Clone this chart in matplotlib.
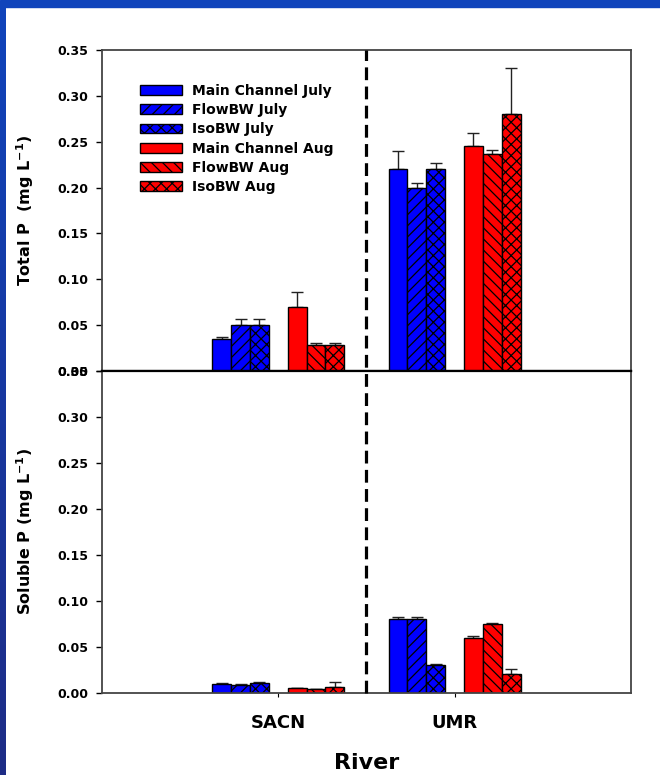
import numpy as np
import matplotlib
matplotlib.use("Agg")
import matplotlib.pyplot as plt
from matplotlib.patches import Patch, Rectangle
from matplotlib.lines import Line2D
from matplotlib.colors import LinearSegmentedColormap
from matplotlib.transforms import blended_transform_factory

# data
rivers = ["SACN", "UMR"]
series = ["Main Channel July", "FlowBW July", "IsoBW July",
          "Main Channel Aug", "FlowBW Aug", "IsoBW Aug"]

total_p_sacn = [0.035, 0.050, 0.050, 0.070, 0.028, 0.028]
total_p_sacn_err = [0.002, 0.007, 0.007, 0.016, 0.002, 0.002]
total_p_umr = [0.220, 0.200, 0.220, 0.245, 0.237, 0.280]
total_p_umr_err = [0.020, 0.005, 0.007, 0.014, 0.004, 0.050]

soluble_p_sacn = [0.010, 0.009, 0.011, 0.005, 0.004, 0.006]
soluble_p_sacn_err = [0.001, 0.001, 0.001, 0.0005, 0.0005, 0.006]
soluble_p_umr = [0.080, 0.080, 0.030, 0.060, 0.075, 0.021]
soluble_p_umr_err = [0.003, 0.003, 0.002, 0.002, 0.001, 0.005]

y_ticks = [0.00, 0.05, 0.10, 0.15, 0.20, 0.25, 0.30, 0.35]

# styles
colors = ["#0000ff", "#0000ff", "#0000ff", "#ff0000", "#ff0000", "#ff0000"]
hatches = ["", "///", "xxx", "", "\\\\\\", "xxx"]
offsets = [-3, -2, -1, 1, 2, 3]
bar_w = 0.107

plt.rcParams["font.family"] = ["DejaVu Sans"]
plt.rcParams["font.weight"] = "bold"
plt.rcParams["axes.labelweight"] = "bold"
plt.rcParams["mathtext.default"] = "bf"
plt.rcParams["hatch.linewidth"] = 0.9

fig = plt.figure(figsize=(6.6, 7.75), dpi=100)
fig.patch.set_facecolor("white")

ax1 = fig.add_axes([0.1545, 0.5213, 0.8015, 0.4142])
ax2 = fig.add_axes([0.1545, 0.1058, 0.8015, 0.4155])

x = np.arange(1, len(rivers) + 1)


def draw_panel(ax, vals_a, errs_a, vals_b, errs_b):
    for i in range(len(series)):
        vals = [vals_a[i], vals_b[i]]
        errs = [errs_a[i], errs_b[i]]
        pos = x + offsets[i] * bar_w
        ax.bar(pos, vals, bar_w, color=colors[i], edgecolor="black",
               linewidth=1.0, hatch=hatches[i], zorder=2)
        # upper error bars only
        ax.errorbar(pos, vals, yerr=[np.zeros(len(vals)), errs], fmt="none",
                    ecolor="#222222", elinewidth=1.0, capsize=4,
                    capthick=1.0, zorder=1)
    ax.set_xlim(0, 3)
    ax.set_ylim(0, 0.35)
    ax.set_yticks(y_ticks)
    ax.set_yticklabels([f"{t:.2f}" for t in y_ticks])
    ax.set_xticks(x)
    ax.tick_params(axis="y", direction="out", length=4, width=1,
                   labelsize=9, pad=6)
    ax.tick_params(axis="x", direction="out", length=3, width=0.8)
    for side in ["top", "left", "right", "bottom"]:
        ax.spines[side].set_color("#444444")
        ax.spines[side].set_linewidth(1.3)


draw_panel(ax1, total_p_sacn, total_p_sacn_err, total_p_umr, total_p_umr_err)
draw_panel(ax2, soluble_p_sacn, soluble_p_sacn_err, soluble_p_umr, soluble_p_umr_err)

ax1.set_xticklabels([])
ax1.spines["bottom"].set_color("black")
ax1.spines["bottom"].set_linewidth(1.6)
ax2.spines["top"].set_color("black")
ax2.spines["top"].set_linewidth(1.6)

ax2.set_xticklabels(rivers, fontsize=13)
ax2.tick_params(axis="x", pad=12)
ax2.set_xlabel("River", fontsize=16, labelpad=15)

ax1.set_ylabel("Total P  (mg L$^{-1}$)", fontsize=11.5)
ax2.set_ylabel("Soluble P (mg L$^{-1}$)", fontsize=11.5)
ax1.yaxis.set_label_coords(-0.125, 0.5)
ax2.yaxis.set_label_coords(-0.125, 0.5)

# legend
handles = [Patch(facecolor=colors[i], edgecolor="black", hatch=hatches[i],
                 linewidth=1.0) for i in range(len(series))]
ax1.legend(handles, series, loc="upper left", bbox_to_anchor=(0.072, 0.895),
           frameon=False, fontsize=10, handlelength=3.0, handleheight=0.7,
           handletextpad=0.75, labelspacing=0.38, borderpad=0, borderaxespad=0)

# dashed divider across both panels
trans = blended_transform_factory(ax1.transData, fig.transFigure)
fig.add_artist(Line2D([1.5, 1.5], [0.1058, 0.9355], transform=trans,
                      color="black", linewidth=2.3, linestyle=(0, (4, 2)),
                      zorder=5))

# blue frame around the slide
fig.patches.append(Rectangle((0, 1 - 7 / 775), 1, 7 / 775,
                             transform=fig.transFigure, color="#1044bb",
                             zorder=0))
edge_ax = fig.add_axes([0, 0, 6 / 660, 1 - 7 / 775])
grad = np.linspace(0, 1, 256).reshape(-1, 1)
cmap = LinearSegmentedColormap.from_list("edge", ["#1044bb", "#1e2c86"])
edge_ax.imshow(grad, aspect="auto", cmap=cmap)
edge_ax.axis("off")

fig.savefig("out.png", dpi=100)
